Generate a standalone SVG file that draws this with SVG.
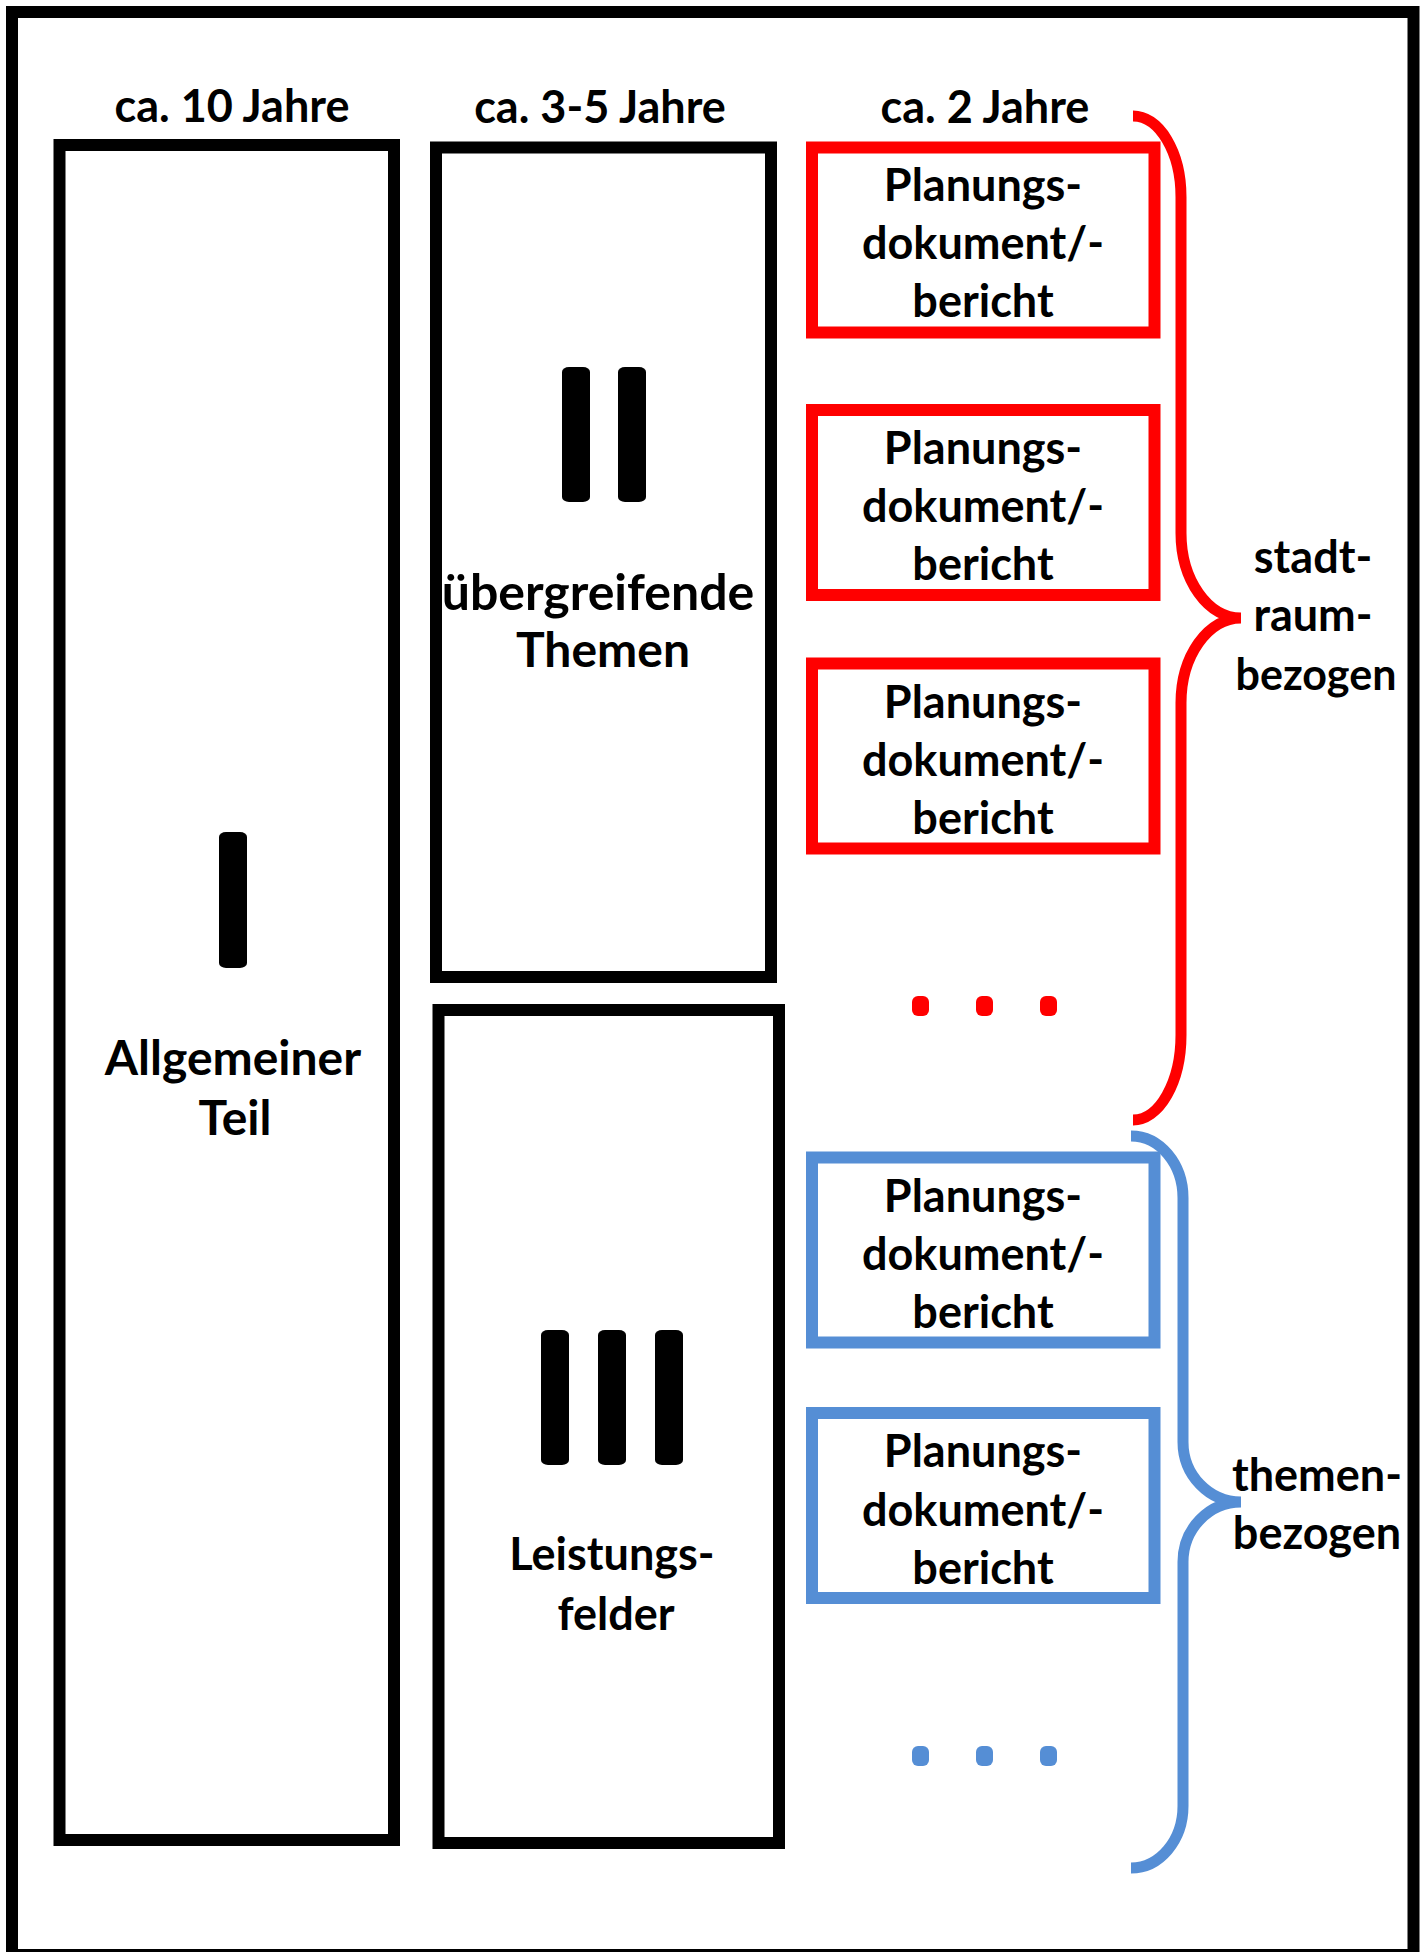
<svg xmlns="http://www.w3.org/2000/svg" width="1421" height="1952" viewBox="0 0 1421 1952">
<style>
.t{font-family:Lato,"Open Sans","Liberation Sans",sans-serif;font-weight:700;fill:#000;text-anchor:middle}
.h{font-size:45px}
.b{font-size:45px}
.c{font-size:48px}
.k{fill:none;stroke:#000;stroke-width:12}
.r{fill:none;stroke:#FF0000;stroke-width:12}
.u{fill:none;stroke:#558ED5;stroke-width:12}
.bar{fill:#000}
.br{fill:none;stroke-width:11;stroke-linecap:butt}
</style>
<rect x="0" y="0" width="1421" height="1952" fill="#fff"/>
<rect id="frame" x="12" y="12" width="1401.5" height="1943" class="k"/>

<g id="headers">
<text class="t h" x="232" y="122">ca. 10 Jahre</text>
<text class="t h" x="600" y="123">ca. 3-5 Jahre</text>
<text class="t h" x="985" y="123">ca. 2 Jahre</text>
</g>

<g id="allgemeiner-teil">
<rect x="59.5" y="145" width="334.5" height="1695" class="k"/>
<rect x="219" y="832" width="28" height="136" rx="7" ry="5" class="bar"/>
<text class="t c" x="233" y="1075">Allgemeiner</text>
<text class="t c" x="235" y="1135">Teil</text>
</g>

<g id="uebergreifende-themen">
<rect x="436" y="147.5" width="335" height="829.5" class="k"/>
<rect x="562" y="367" width="28" height="135" rx="7" ry="5" class="bar"/>
<rect x="618" y="367" width="28" height="135" rx="7" ry="5" class="bar"/>
<text class="t c" x="598" y="610" style="font-size:50px">übergreifende</text>
<text class="t c" x="603" y="667">Themen</text>
</g>

<g id="leistungsfelder">
<rect x="438.5" y="1010" width="340.5" height="833" class="k"/>
<rect x="541" y="1330" width="28" height="135" rx="7" ry="5" class="bar"/>
<rect x="598" y="1330" width="28" height="135" rx="7" ry="5" class="bar"/>
<rect x="655" y="1330" width="28" height="135" rx="7" ry="5" class="bar"/>
<text class="t b" x="612" y="1570">Leistungs-</text>
<text class="t b" x="616" y="1630">felder</text>
</g>

<g id="red-doc-1">
<rect x="812" y="147.5" width="342.5" height="185" class="r"/>
<text class="t b" x="983" y="201">Planungs-</text>
<text class="t b" x="983" y="259">dokument/-</text>
<text class="t b" x="983" y="317">bericht</text>
</g>
<g id="red-doc-2">
<rect x="812" y="410" width="342.5" height="185" class="r"/>
<text class="t b" x="983" y="464">Planungs-</text>
<text class="t b" x="983" y="522">dokument/-</text>
<text class="t b" x="983" y="580">bericht</text>
</g>
<g id="red-doc-3">
<rect x="812" y="663.5" width="342.5" height="185" class="r"/>
<text class="t b" x="983" y="718">Planungs-</text>
<text class="t b" x="983" y="776">dokument/-</text>
<text class="t b" x="983" y="834">bericht</text>
</g>
<g id="red-more" fill="#FF0000">
<rect x="912" y="996" width="17" height="20" rx="6" ry="6"/>
<rect x="976" y="996" width="17" height="20" rx="6" ry="6"/>
<rect x="1040" y="996" width="17" height="20" rx="6" ry="6"/>
</g>

<g id="blue-doc-1">
<rect x="812" y="1157.5" width="342.5" height="185" class="u"/>
<text class="t b" x="983" y="1212">Planungs-</text>
<text class="t b" x="983" y="1270">dokument/-</text>
<text class="t b" x="983" y="1328">bericht</text>
</g>
<g id="blue-doc-2">
<rect x="812" y="1413" width="342.5" height="185" class="u"/>
<text class="t b" x="983" y="1467">Planungs-</text>
<text class="t b" x="983" y="1526">dokument/-</text>
<text class="t b" x="983" y="1584">bericht</text>
</g>
<g id="blue-more" fill="#558ED5">
<rect x="912" y="1746" width="17" height="20" rx="6" ry="6"/>
<rect x="976" y="1746" width="17" height="20" rx="6" ry="6"/>
<rect x="1040" y="1746" width="17" height="20" rx="6" ry="6"/>
</g>

<g id="connectors">
<path class="br" stroke="#FF0000" d="M1133,116 A48,81 0 0 1 1181,197 L1181,533 A60,85 0 0 0 1241,618 A60,85 0 0 0 1181,703 L1181,1035 A48,85 0 0 1 1133,1120"/>
<path class="br" stroke="#558ED5" d="M1131,1136 A52,62 0 0 1 1183,1198 L1183,1442 A58,60 0 0 0 1241,1502 A58,60 0 0 0 1183,1562 L1183,1806 A52,62 0 0 1 1131,1868"/>
</g>

<g id="stadtraum-label">
<text class="t b" x="1313" y="573">stadt-</text>
<text class="t b" x="1313" y="631">raum-</text>
<text class="t b" x="1316" y="690" style="font-size:43px">bezogen</text>
</g>
<g id="themen-label">
<text class="t b" x="1317" y="1491">themen-</text>
<text class="t b" x="1317" y="1549">bezogen</text>
</g>
</svg>
